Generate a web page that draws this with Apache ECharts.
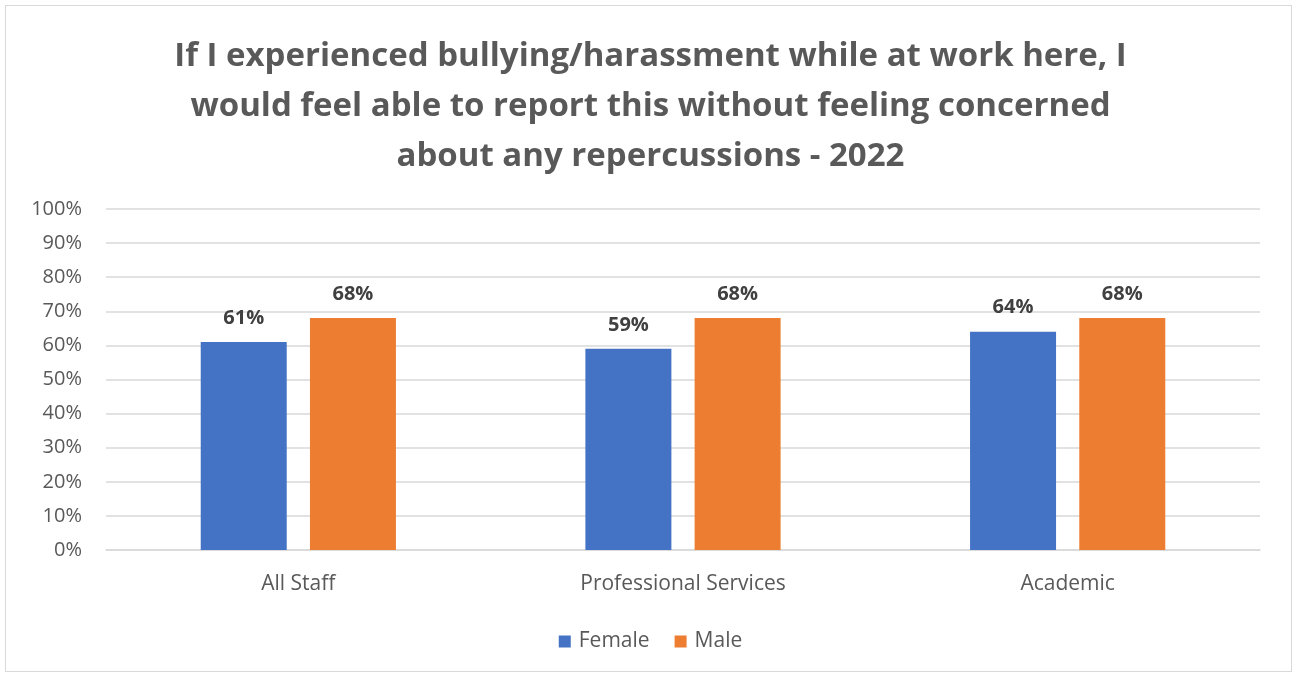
<!DOCTYPE html>
<html>
<head>
<meta charset="utf-8">
<script src="https://cdn.jsdelivr.net/npm/echarts@6/dist/echarts.min.js"></script>
<style>
  html, body { margin: 0; padding: 0; background: #ffffff; }
  #frame { position: absolute; left: 5px; top: 5px; width: 1287px; height: 667px; border: 1px solid #d9d9d9; box-sizing: border-box; }
  #chart { position: absolute; left: 0; top: 0; width: 1301px; height: 679px; }
</style>
</head>
<body>
<div id="frame"></div>
<div id="chart"></div>
<script>
// Survey response: share who would report bullying/harassment without concern, by staff group and sex
const titleLines = [
  'If I experienced bullying/harassment while at work here, I',
  'would feel able to report this without feeling concerned',
  'about any repercussions - 2022'
];
const categories = ['All Staff', 'Professional Services', 'Academic'];
const seriesNames = ['Female', 'Male'];
const female = [61, 59, 64];
const male = [68, 68, 68];
const yTicks = [0, 10, 20, 30, 40, 50, 60, 70, 80, 90, 100];

const chart = echarts.init(document.getElementById('chart'), null, { renderer: 'canvas' });
const fontFamily = '"Open Sans", "Noto Sans", sans-serif';

const labelStyle = {
  show: true,
  position: 'top',
  distance: 14,
  formatter: p => p.value + '%',
  color: '#404040',
  fontSize: 20,
  fontWeight: 'bold',
  fontFamily
};

chart.setOption({
  animation: false,
  textStyle: { fontFamily },
  title: {
    text: titleLines.join('\n'),
    left: 'center',
    top: 27,
    textStyle: {
      fontSize: 33,
      fontWeight: 'bold',
      color: '#595959',
      lineHeight: 50,
      fontFamily
    }
  },
  legend: {
    bottom: 22,
    left: 'center',
    itemWidth: 12,
    itemHeight: 12,
    itemGap: 25,
    icon: 'rect',
    textStyle: { fontSize: 21, color: '#595959', fontFamily, padding: [0, 0, 0, 3] }
  },
  grid: { left: 106, right: 41, top: 209, bottom: 129, containLabel: false },
  xAxis: {
    type: 'category',
    data: categories,
    axisLine: { lineStyle: { color: '#d9d9d9', width: 1.5 } },
    axisTick: { show: false },
    axisLabel: { fontSize: 21, color: '#595959', margin: 24 }
  },
  yAxis: {
    type: 'value',
    min: yTicks[0],
    max: yTicks[yTicks.length - 1],
    interval: 10,
    axisLabel: { formatter: '{value}%', fontSize: 20, color: '#595959', margin: 24 },
    axisLine: { show: false },
    axisTick: { show: false },
    splitLine: { lineStyle: { color: '#d9d9d9', width: 1.5 } }
  },
  series: [
    {
      name: seriesNames[0],
      type: 'bar',
      data: female,
      barWidth: 86,
      barGap: '27%',
      itemStyle: { color: '#4472c4' },
      label: labelStyle
    },
    {
      name: seriesNames[1],
      type: 'bar',
      data: male,
      barWidth: 86,
      itemStyle: { color: '#ed7d31' },
      label: labelStyle
    }
  ]
});
</script>
</body>
</html>
